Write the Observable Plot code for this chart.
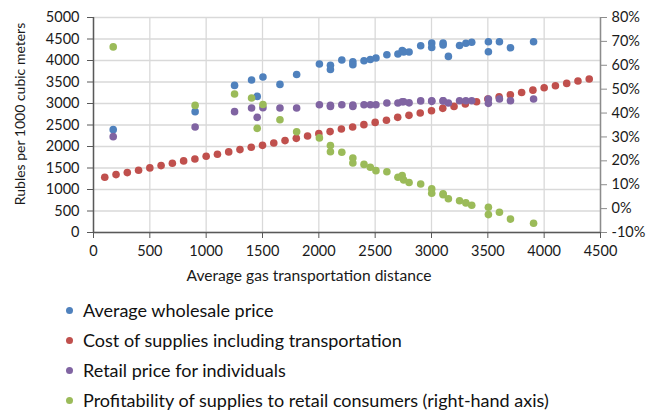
<!DOCTYPE html>
<html>
<head>
<meta charset="utf-8">
<script src="https://cdn.jsdelivr.net/npm/d3@7"></script>
<script src="https://cdn.jsdelivr.net/npm/@observablehq/plot@0.6"></script>
<style>
  html, body { margin: 0; padding: 0; background: #fff; }
  #chart { width: 661px; }
  .legend { font-family: Lato, "Noto Sans", sans-serif; font-size: 18px; color: #111; padding-top: 3px; }
  .legend .row { height: 30px; display: flex; align-items: center; }
  .legend .sw { width: 7px; height: 7px; border-radius: 50%; margin-left: 66px; margin-right: 10px; }
</style>
</head>
<body>
<div id="chart"></div>
<script>
// ---- data ----
const xTitle = "Average gas transportation distance";
const yTitle = "Rubles per 1000 cubic meters";
const seriesNames = [
  "Average wholesale price",
  "Cost of supplies including transportation",
  "Retail price for individuals",
  "Profitability of supplies to retail consumers (right-hand axis)"
];
const seriesColors = ["#4F81BD", "#C0504D", "#8064A2", "#9BBB59"];

const xTicks = [0, 500, 1000, 1500, 2000, 2500, 3000, 3500, 4000, 4500];
const yTicks = [0, 500, 1000, 1500, 2000, 2500, 3000, 3500, 4000, 4500, 5000];
const pctTicks = [-10, 0, 10, 20, 30, 40, 50, 60, 70, 80];
const xDomain = [0, 4500];
const yDomain = [0, 5000];
const pctDomain = [-10, 80];

// regional observations
const distance = [175, 902, 1252, 1403, 1453, 1504, 1655, 1803, 2005, 2103, 2103, 2204, 2302, 2302, 2401, 2457, 2507, 2604, 2702, 2740, 2753, 2801, 2904, 3002, 3002, 3103, 3103, 3150, 3249, 3305, 3357, 3505, 3505, 3603, 3701, 3906];
const wholesale = [2392, 2810, 3421, 3546, 3165, 3616, 3444, 3676, 3917, 3890, 3790, 4011, 3971, 3900, 3994, 4025, 4057, 4134, 4150, 4234, 4200, 4196, 4343, 4406, 4305, 4406, 4360, 4095, 4350, 4400, 4425, 4436, 4204, 4436, 4297, 4436];
const retail = [2229, 2455, 2810, 2896, 2678, 2903, 2896, 2896, 2970, 2960, 2930, 2970, 2966, 2930, 2970, 2970, 2970, 3010, 3010, 3040, 3040, 3015, 3060, 3065, 3050, 3065, 3060, 3011, 3065, 3065, 3065, 3105, 3003, 3105, 3065, 3105];
const profitPct = [67.7, 43.2, 48.0, 46.3, 33.6, 43.6, 37.2, 32.2, 29.6, 26.4, 23.8, 23.6, 21.2, 19.1, 18.5, 17.3, 15.9, 15.4, 13.1, 13.8, 12.0, 10.9, 10.3, 8.3, 6.4, 6.2, 5.8, 4.1, 3.3, 2.4, 1.4, 0.6, -2.5, -1.5, -4.4, -6.1];

// cost curve
const costDistance = [100, 200, 300, 400, 500, 600, 700, 800, 900, 1000, 1100, 1200, 1300, 1400, 1500, 1600, 1700, 1800, 1900, 2000, 2100, 2200, 2300, 2400, 2500, 2600, 2700, 2800, 2900, 3000, 3100, 3200, 3300, 3400, 3500, 3600, 3700, 3800, 3900, 4000, 4100, 4200, 4300, 4400];
const cost = [1284, 1347, 1393, 1448, 1502, 1556, 1610, 1665, 1711, 1772, 1819, 1874, 1928, 1981, 2027, 2083, 2137, 2190, 2245, 2299, 2346, 2408, 2455, 2508, 2560, 2610, 2678, 2724, 2780, 2833, 2887, 2933, 2988, 3042, 3105, 3158, 3205, 3255, 3310, 3367, 3414, 3467, 3522, 3569];

// ---- build ----
// map right-hand percent axis onto the left value scale
const pctToY = d3.scaleLinear().domain(pctDomain).range(yDomain);
const obs = distance.map((d, i) => ({d, w: wholesale[i], r: retail[i], p: pctToY(profitPct[i])}));
const costData = costDistance.map((d, i) => ({d, c: cost[i]}));

const axisColor = "#595959";
const textColor = "#1a1a1a";
const plain = d3.format("d");

const chart = Plot.plot({
  width: 661,
  height: 292,
  marginTop: 17,
  marginLeft: 93,
  marginRight: 61,
  marginBottom: 60,
  style: {fontFamily: "Lato, 'Noto Sans', sans-serif", fontSize: "14.5px", color: textColor, background: "#fff"},
  x: {domain: xDomain},
  y: {domain: yDomain},
  marks: [
    Plot.gridX(xTicks, {stroke: "#d9d9d9", strokeOpacity: 1, strokeWidth: 1.3}),
    Plot.gridY(yTicks, {stroke: "#d9d9d9", strokeOpacity: 1, strokeWidth: 1.3}),
    Plot.ruleX([xDomain[1]], {stroke: "#8c8c8c", strokeWidth: 1.5}),
    Plot.ruleX([xDomain[0]], {stroke: axisColor, strokeWidth: 1.5}),
    Plot.ruleY([yDomain[0]], {stroke: axisColor, strokeWidth: 1.5}),
    Plot.axisX(xTicks, {anchor: "bottom", tickSize: 6, tickPadding: 7, stroke: axisColor, fill: textColor, label: null, tickFormat: plain}),
    Plot.axisY(yTicks, {anchor: "left", tickSize: 6, tickPadding: 8, stroke: axisColor, fill: textColor, label: null, tickFormat: plain}),
    Plot.axisY(pctTicks.map(pctToY), {anchor: "right", tickSize: 6, tickPadding: 5, stroke: "#8c8c8c", fill: textColor, label: null,
      tickFormat: v => Math.round(pctToY.invert(v)) + "%"}),
    Plot.dot(obs, {x: "d", y: "w", r: 3.8, fill: seriesColors[0]}),
    Plot.dot(costData, {x: "d", y: "c", r: 3.8, fill: seriesColors[1]}),
    Plot.dot(obs, {x: "d", y: "r", r: 3.8, fill: seriesColors[2]}),
    Plot.dot(obs, {x: "d", y: "p", r: 3.8, fill: seriesColors[3]}),
    Plot.text([xTitle], {frameAnchor: "bottom", dx: -38, dy: 48, fontSize: 15.6, fill: textColor}),
    Plot.text([yTitle], {frameAnchor: "left", textAnchor: "middle", rotate: -90, dx: -73, dy: -11, fontSize: 14, fill: textColor})
  ]
});
document.getElementById("chart").appendChild(chart);

// legend
const legend = d3.select("#chart").append("div").attr("class", "legend");
const rows = legend.selectAll("div.row").data(seriesNames).join("div").attr("class", "row");
rows.append("span").attr("class", "sw").style("background", (d, i) => seriesColors[i]);
rows.append("span").text(d => d);
</script>
</body>
</html>
